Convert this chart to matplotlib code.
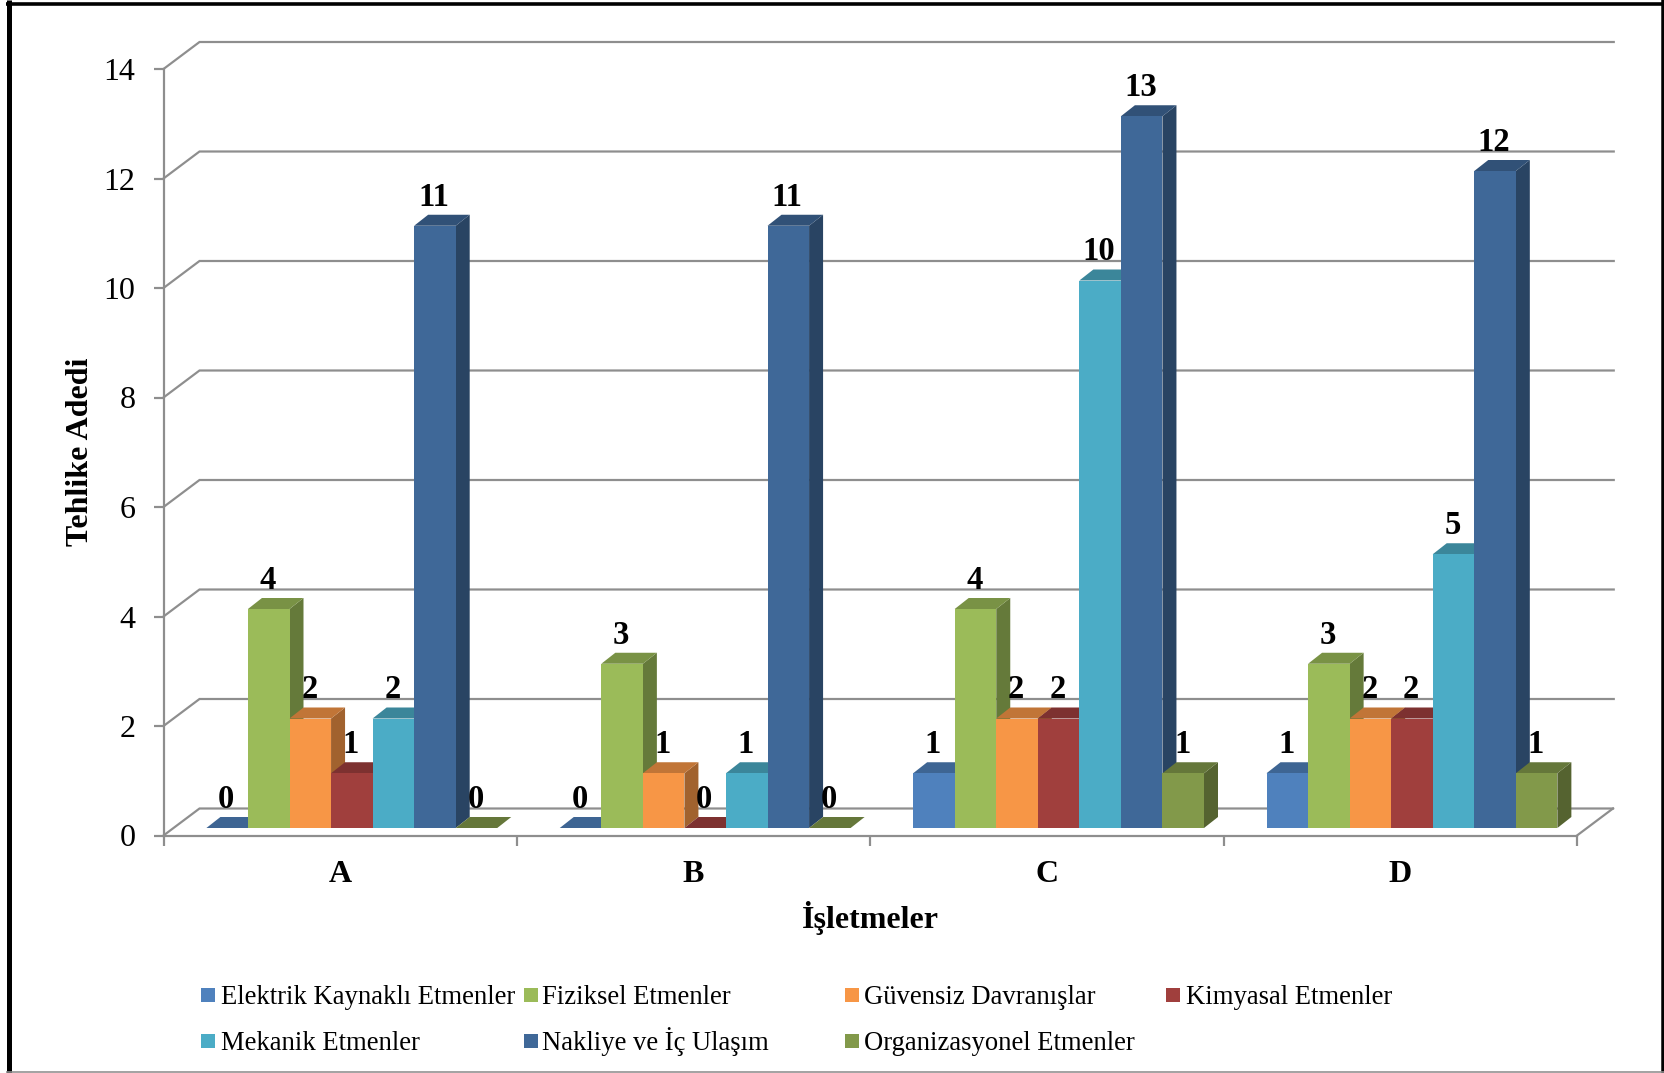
import matplotlib
matplotlib.use("Agg")
import matplotlib.pyplot as plt
from matplotlib.colors import to_rgb
from matplotlib.lines import Line2D
from matplotlib.patches import Polygon, Rectangle

plt.rcParams['font.family'] = ['Liberation Serif', 'DejaVu Serif']

W, H = 1664, 1073

# veriler
isletmeler = ['A', 'B', 'C', 'D']
elektrik = [0, 0, 1, 1]
fiziksel = [4, 3, 4, 3]
guvensiz = [2, 1, 2, 2]
kimyasal = [1, 0, 2, 2]
mekanik = [2, 1, 10, 5]
nakliye = [11, 11, 13, 12]
organizasyon = [0, 0, 1, 1]

seri_adlari = ['Elektrik Kaynaklı Etmenler', 'Fiziksel Etmenler', 'Güvensiz Davranışlar',
               'Kimyasal Etmenler', 'Mekanik Etmenler', 'Nakliye ve İç Ulaşım',
               'Organizasyonel Etmenler']
seriler = [elektrik, fiziksel, guvensiz, kimyasal, mekanik, nakliye, organizasyon]
renkler = ['#4F81BD', '#9BBB59', '#F79646', '#A03F3D', '#4BACC6', '#3F6898', '#82994A']

# eksen alani: on duzlem, piksel olarak
sol, sag, alt, ust = 163.5, 1577, 835.5, 69
px_x = (sag - sol) / 4
px_y = (alt - ust) / 14


def pt(px):
    return px * 72 / 100


def koyu(renk, k):
    return tuple(c * k for c in to_rgb(renk))


fig = plt.figure(figsize=(W / 100, H / 100), dpi=100)
ax = fig.add_axes([sol / W, 1 - alt / H, (sag - sol) / W, (alt - ust) / H])
ax.set_xlim(0, 4)
ax.set_ylim(0, 14)
ax.patch.set_visible(False)

gri = '#8E8E8E'
duvar_dx, duvar_dy = 36 / px_x, 27 / px_y

# arka duvar ve taban cizgileri
for deger in range(0, 15, 2):
    ax.plot([0, duvar_dx, 4 + duvar_dx if deger == 0 else 4.104],
            [deger, deger + duvar_dy, deger + duvar_dy],
            color=gri, lw=pt(2.2), clip_on=False, zorder=1, solid_joinstyle='miter')
ax.plot([4, 4 + duvar_dx], [0, duvar_dy], color=gri, lw=pt(2.2), clip_on=False, zorder=1)

# cubuklar
bar_w = 41.55 / px_x
baslangic = 42.9 / px_x
taban = 7.5 / px_y
dx, dy = 14 / px_x, 11 / px_y

for i in range(len(isletmeler)):
    for s, (seri, renk) in enumerate(zip(seriler, renkler)):
        deger = seri[i]
        x0 = i + baslangic + s * bar_w
        x1 = x0 + bar_w
        y1 = taban + deger
        ax.add_patch(Polygon([(x1, taban), (x1 + dx, taban + dy), (x1 + dx, y1 + dy), (x1, y1)],
                             fc=koyu(renk, 0.65), lw=0, clip_on=False, zorder=2))
        ax.add_patch(Polygon([(x0, y1), (x0 + dx, y1 + dy), (x1 + dx, y1 + dy), (x1, y1)],
                             fc=koyu(renk, 0.78), lw=0, clip_on=False, zorder=2))
        ax.bar(x0, deger, width=bar_w, bottom=taban, align='edge', color=renk, lw=0,
               clip_on=False, zorder=2)
        ax.annotate(str(deger), (x0 + bar_w / 2, y1), xytext=(-0.7, pt(28.5)),
                    textcoords='offset points', ha='center', va='center',
                    fontsize=23.5, fontweight='bold', color='black', zorder=5,
                    annotation_clip=False)

# eksenler
for k in ['top', 'right']:
    ax.spines[k].set_visible(False)
for k in ['left', 'bottom']:
    ax.spines[k].set_color(gri)
    ax.spines[k].set_linewidth(pt(2.2))
    ax.spines[k].set_zorder(3)

ax.set_yticks(range(0, 15, 2))
ax.set_xticks(range(5))
ax.set_xticklabels([])
ax.set_xticks([i + 0.5 for i in range(4)], labels=isletmeler, minor=True)
ax.tick_params(axis='both', which='major', color=gri, width=pt(2.2), length=pt(10))
ax.tick_params(axis='y', labelsize=23, pad=pt(18), labelcolor='black')
ax.tick_params(axis='x', which='minor', length=0, labelsize=23, pad=pt(25))
for t in ax.get_xticklabels(minor=True):
    t.set_fontweight('bold')

fig.text(81 / W, 1 - 452 / H, 'Tehlike Adedi', rotation=90, ha='center', va='center',
         fontsize=23, fontweight='bold')
fig.text(870 / W, 1 - 918 / H, 'İşletmeler', ha='center', va='center',
         fontsize=23, fontweight='bold')

# lejant
kolonlar = [201, 524, 845, 1166]
yazi_kolonlar = [221, 542, 864, 1185.5]
satirlar = [995, 1041]
for n, (ad, renk) in enumerate(zip(seri_adlari, renkler)):
    lx = kolonlar[n % 4]
    ly = satirlar[n // 4]
    fig.add_artist(Rectangle((lx / W, 1 - (ly + 7) / H), 14 / W, 14 / H, fc=renk, lw=0,
                             transform=fig.transFigure))
    fig.text(yazi_kolonlar[n % 4] / W, 1 - (ly + 8.5) / H, ad, ha='left', va='baseline',
             fontsize=19.15)

# dis cerceve
cerceve = [([8.5, 8.5], [0, 1073], 5, 'black'), ([6, 1664], [3.8, 3.8], 3.6, 'black'),
           ([1662.5, 1662.5], [0, 1073], 3.5, 'black'), ([6, 1664], [1071.8, 1071.8], 1.6, gri)]
for xs, ys, kalinlik, c in cerceve:
    fig.add_artist(Line2D([v / W for v in xs], [1 - v / H for v in ys], color=c, lw=pt(kalinlik),
                          transform=fig.transFigure, solid_capstyle='butt'))

fig.savefig('out.png', dpi=100)
